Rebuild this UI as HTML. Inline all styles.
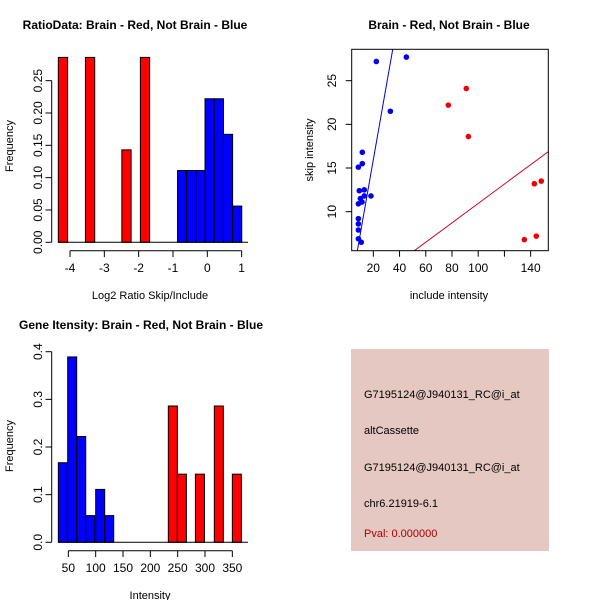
<!DOCTYPE html>
<html><head><meta charset="utf-8"><style>
body{margin:0;background:#fff;}
svg{display:block;font-family:"Liberation Sans",sans-serif;}
</style></head><body>
<svg id="s" width="600" height="600" xmlns="http://www.w3.org/2000/svg">
<rect x="351" y="349" width="198" height="202" fill="#e6c8c2"/>
<g font-size="11">
<text x="364" y="398">G7195124@J940131_RC@i_at</text>
<text x="364" y="434">altCassette</text>
<text x="364" y="471">G7195124@J940131_RC@i_at</text>
<text x="364" y="507">chr6.21919-6.1</text>
<text x="364" y="537" fill="#aa0000">Pval: 0.000000</text>
</g>
</svg>
<script>
// Ratio histogram
const ratioRedLeft=[-4.34,-3.55,-2.49,-1.95];
const ratioRedH=[0.286,0.286,0.143,0.286];
const ratioBlueLeft=[-0.867,-0.6,-0.333,-0.067,0.2,0.467,0.733];
const ratioBlueH=[0.111,0.111,0.111,0.222,0.222,0.167,0.056];
const ratioBinW=0.27;
const ratioXTicks=[-4,-3,-2,-1,0,1];
const ratioYTicks=[0,0.05,0.10,0.15,0.20,0.25];
const ratioYLabels=["0.00","0.05","0.10","0.15","0.20","0.25"];
// Scatter
const blueX=[22.3,45.2,33.0,11.6,11.6,8.6,9.3,13.1,8.6,10.1,11.4,13.1,18.2,8.6,8.6,8.6,8.6,10.8];
const blueY=[27.2,27.7,21.5,16.8,15.5,15.1,12.4,12.5,10.9,11.5,11.1,11.8,11.8,9.2,8.6,7.9,6.9,6.5];
const redX=[77.2,90.9,92.5,142.8,148.1,135.2,144.3];
const redY=[22.2,24.1,18.6,13.2,13.5,6.8,7.2];
const blueFit=[-1.13,0.854];
const redFit=[-0.16,0.111];
const scXTicks=[20,40,60,80,100,120,140];
const scXLabels=["20","40","60","80","100","","140"];
const scYTicks=[10,15,20,25];
// Intensity histogram
const intBlueLeft=[31.7,48.8,65.3,81.8,100,116.5];
const intBlueH=[0.167,0.389,0.222,0.056,0.111,0.056];
const intRedLeft=[232.9,249.4,282.4,317.0,350];
const intRedH=[0.286,0.143,0.143,0.286,0.143];
const intBinW=16.5;
const intXTicks=[50,100,150,200,250,300,350];
const intYTicks=[0,0.1,0.2,0.3,0.4];
const intYLabels=["0.0","0.1","0.2","0.3","0.4"];

const svg=document.getElementById('s');
const NS="http://www.w3.org/2000/svg";
function mk(tag,attrs,parent){const e=document.createElementNS(NS,tag);for(const k in attrs)e.setAttribute(k,attrs[k]);(parent||svg).appendChild(e);return e;}
function txt(x,y,s,attrs,parent){const t=mk('text',Object.assign({x:x,y:y},attrs||{}),parent);t.textContent=s;return t;}

// ---------- Panel 1 ----------
(function(){
 const g=mk('g',{});
 
 
 const X=v=>70+(v+4)*34.33, Y=v=>242.3-v*646.5;
 function bars(L,H,col,nm){L.forEach((l,i)=>{const r=mk('rect',{x:X(l),y:Y(H[i]),width:X(l+ratioBinW)-X(l),height:Y(0)-Y(H[i]),fill:col,stroke:'#000','stroke-width':1},g);
 
 });}
 bars(ratioRedLeft,ratioRedH,'#ff0000','ratio-red');
 bars(ratioBlueLeft,ratioBlueH,'#0000ff','ratio-blue');
 const base=mk('line',{x1:58,x2:248,y1:Y(0),y2:Y(0),stroke:'#000'},g);
 
 
 mk('line',{x1:X(-4),x2:X(1),y1:250.7,y2:250.7,stroke:'#000'},g);
 ratioXTicks.forEach(t=>{mk('line',{x1:X(t),x2:X(t),y1:250.7,y2:257,stroke:'#000'},g);
  const l=txt(X(t),272,String(t),{'font-size':12,'text-anchor':'middle'},g);
  
  });
 mk('line',{x1:51.7,x2:51.7,y1:Y(0),y2:Y(0.25),stroke:'#000'},g);
 ratioYTicks.forEach((t,i)=>{mk('line',{x1:45.5,x2:51.7,y1:Y(t),y2:Y(t),stroke:'#000'},g);
  const l=txt(0,0,ratioYLabels[i],{'font-size':12,'text-anchor':'middle',transform:`translate(42,${Y(t)}) rotate(-90)`},g);
  
  });
 const t1=txt(135,29,'RatioData: Brain - Red, Not Brain - Blue',{'font-size':12,'font-weight':'bold','text-anchor':'middle'},g);
 
 
 const xl=txt(150,299,'Log2 Ratio Skip/Include',{'font-size':11,'text-anchor':'middle'},g);
 
 
 const yl=txt(0,0,'Frequency',{'font-size':11,'text-anchor':'middle',transform:'translate(13,146) rotate(-90)'},g);
 
 
})();

// ---------- Panel 2 ----------
(function(){
 const g=mk('g',{});
 
 
 const X=v=>347.1+v*1.311, Y=v=>299-v*8.733;
 const x0=351.7,x1=548.3,y0=49.3,y1=250.7;
 const cp=mk('clipPath',{id:'cp'},g);
 mk('rect',{x:x0,y:y0,width:x1-x0,height:y1-y0},cp);
 const xa=3.5,xb=153.5;
 const bl=mk('line',{x1:X(xa),y1:Y(blueFit[0]+blueFit[1]*xa),x2:X(xb),y2:Y(blueFit[0]+blueFit[1]*xb),stroke:'#0000cc','clip-path':'url(#cp)'},g);
 
 
 const rl=mk('line',{x1:X(xa),y1:Y(redFit[0]+redFit[1]*xa),x2:X(xb),y2:Y(redFit[0]+redFit[1]*xb),stroke:'#cc0022','clip-path':'url(#cp)'},g);
 
 
 blueX.forEach((v,i)=>{const c=mk('circle',{cx:X(v),cy:Y(blueY[i]),r:2.8,fill:'#0000ee'},g);
  
  });
 redX.forEach((v,i)=>{const c=mk('circle',{cx:X(v),cy:Y(redY[i]),r:2.8,fill:'#ee0000'},g);
  
  });
 const box=mk('rect',{x:x0,y:y0,width:x1-x0,height:y1-y0,fill:'none',stroke:'#000'},g);
 
 
 scXTicks.forEach((t,i)=>{mk('line',{x1:X(t),x2:X(t),y1:y1,y2:y1+6,stroke:'#000'},g);
  const l=txt(X(t),272,scXLabels[i],{'font-size':12,'text-anchor':'middle'},g);
  
  });
 scYTicks.forEach(t=>{mk('line',{x1:x0-6,x2:x0,y1:Y(t),y2:Y(t),stroke:'#000'},g);
  const l=txt(0,0,String(t),{'font-size':12,'text-anchor':'middle',transform:`translate(336,${Y(t)}) rotate(-90)`},g);
  
  });
 const t1=txt(449,29,'Brain - Red, Not Brain - Blue',{'font-size':12,'font-weight':'bold','text-anchor':'middle'},g);
 
 
 const xl=txt(449,299,'include intensity',{'font-size':11,'text-anchor':'middle'},g);
 
 
 const yl=txt(0,0,'skip intensity',{'font-size':11,'text-anchor':'middle',transform:'translate(313,150) rotate(-90)'},g);
 
 
})();

// ---------- Panel 3 ----------
(function(){
 const g=mk('g',{});
 
 
 const X=v=>41+v*0.5467, Y=v=>542.3-v*476.5;
 function bars(L,H,col,nm){L.forEach((l,i)=>{const r=mk('rect',{x:X(l),y:Y(H[i]),width:X(l+intBinW)-X(l),height:Y(0)-Y(H[i]),fill:col,stroke:'#000'},g);
 
 });}
 bars(intBlueLeft,intBlueH,'#0000ff','intensity-blue');
 bars(intRedLeft,intRedH,'#ff0000','intensity-red');
 mk('line',{x1:58,x2:248,y1:Y(0),y2:Y(0),stroke:'#000'},g);
 mk('line',{x1:X(50),x2:X(350),y1:550.7,y2:550.7,stroke:'#000'},g);
 intXTicks.forEach(t=>{mk('line',{x1:X(t),x2:X(t),y1:550.7,y2:557,stroke:'#000'},g);
  const l=txt(X(t),572,String(t),{'font-size':12,'text-anchor':'middle'},g);
  
  });
 mk('line',{x1:51.7,x2:51.7,y1:Y(0),y2:Y(0.4),stroke:'#000'},g);
 intYTicks.forEach((t,i)=>{mk('line',{x1:45.5,x2:51.7,y1:Y(t),y2:Y(t),stroke:'#000'},g);
  const l=txt(0,0,intYLabels[i],{'font-size':12,'text-anchor':'middle',transform:`translate(42,${Y(t)}) rotate(-90)`},g);
  
  });
 const t1=txt(141,329,'Gene Itensity: Brain - Red, Not Brain - Blue',{'font-size':12,'font-weight':'bold','text-anchor':'middle'},g);
 
 
 const xl=txt(150,599,'Intensity',{'font-size':11,'text-anchor':'middle'},g);
 
 
 const yl=txt(0,0,'Frequency',{'font-size':11,'text-anchor':'middle',transform:'translate(13,446) rotate(-90)'},g);
 
 
})();
</script>
</body></html>
